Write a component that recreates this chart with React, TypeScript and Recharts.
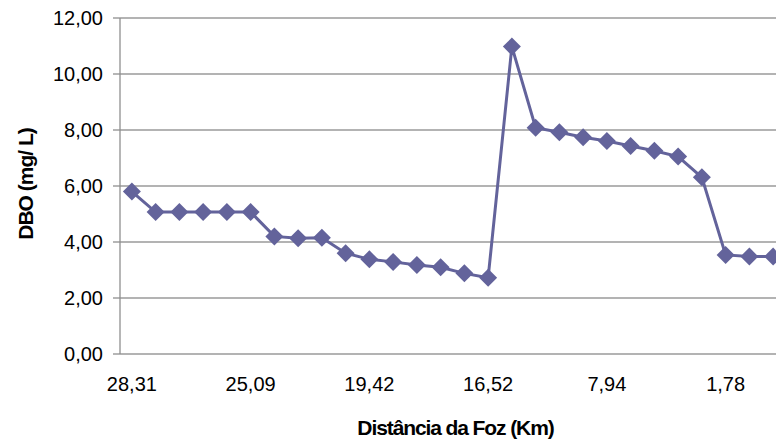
import { LineChart, Line, XAxis, YAxis, CartesianGrid } from 'recharts';

// distância da foz (km) - só os rótulos de 5 em 5 aparecem no eixo
const distancias = [
    '28,31', '27,60', '26,95', '26,30', '25,70',
    '25,09', '23,85', '22,70', '21,55', '20,40',
    '19,42', '18,90', '18,20', '17,60', '17,05',
    '16,52', '14,80', '13,10', '11,35', '9,60',
    '7,94', '6,70', '5,45', '4,25', '3,00',
    '1,78', '0,95', '0,30',
];
const dbo = [
    5.8, 5.07, 5.07, 5.07, 5.07,
    5.07, 4.2, 4.13, 4.15, 3.6,
    3.38, 3.29, 3.18, 3.1, 2.88,
    2.72, 10.98, 8.08, 7.92, 7.74,
    7.61, 7.43, 7.26, 7.05, 6.31,
    3.54, 3.48, 3.48,
];
const yTicks = [0, 2, 4, 6, 8, 10, 12];
const xLabelTicks = [0, 5, 10, 15, 20, 25];

const data = dbo.map((v, i) => ({ i, dbo: v }));
// marcas do eixo entre as categorias (estilo Excel)
const xMarkTicks = [...distancias.map((_, i) => i - 0.5), distancias.length - 0.5];

const FONT = '"Liberation Sans", Arial, sans-serif';
const COR = '#63639b';

const fmt = (v: number) => v.toFixed(2).replace('.', ',');

const Diamante = (props: any) => {
    const { cx, cy, index } = props;
    if (cx == null || cy == null) return <g key={`d${index}`} />;
    const r = 9;
    return (
        <polygon
            key={`d${index}`}
            points={`${cx},${cy - r} ${cx + r},${cy} ${cx},${cy + r} ${cx - r},${cy}`}
            fill={COR}
        />
    );
};

export default function App() {
    return (
        <div style={{ position: 'fixed', left: 0, top: 0, width: 776, height: 443, overflow: 'hidden', background: '#fff' }}>
            <LineChart width={790} height={443} data={data} margin={{ top: 18, right: 5, bottom: 0, left: 0 }}>
                <CartesianGrid xAxisId="lbl" vertical={false} stroke="#9a9a9a" strokeWidth={1.3} />
                <XAxis
                    xAxisId="marks"
                    type="number"
                    dataKey="i"
                    domain={[-0.5, distancias.length - 0.5]}
                    allowDataOverflow
                    ticks={xMarkTicks}
                    tick={false}
                    tickSize={7}
                    height={0}
                    stroke="#8f8f8f"
                    strokeWidth={1.3}
                />
                <XAxis
                    xAxisId="lbl"
                    type="number"
                    dataKey="i"
                    domain={[-0.5, distancias.length - 0.5]}
                    allowDataOverflow
                    ticks={xLabelTicks}
                    interval={0}
                    tickFormatter={(i) => distancias[i]}
                    axisLine={false}
                    tickLine={false}
                    tickSize={0}
                    tickMargin={23}
                    height={89}
                    tick={{ fill: '#000', fontSize: 20, fontFamily: FONT }}
                    label={(p: any) => {
                        const vb = p.viewBox;
                        return (
                            <text
                                x={vb.x + vb.width / 2 + 3}
                                y={vb.y + 81}
                                textAnchor="middle"
                                fontFamily={FONT}
                                fontWeight="bold"
                                fontSize={21}
                                letterSpacing={-1.1}
                                fill="#000"
                            >
                                Distância da Foz (Km)
                            </text>
                        );
                    }}
                />
                <YAxis
                    domain={[0, 12]}
                    ticks={yTicks}
                    tickFormatter={fmt}
                    width={120}
                    tickSize={7}
                    tickMargin={10}
                    stroke="#8f8f8f"
                    strokeWidth={1.3}
                    tick={{ fill: '#000', fontSize: 20, fontFamily: FONT }}
                    label={(p: any) => {
                        const vb = p.viewBox;
                        const x = 33;
                        const y = vb.y + vb.height / 2 - 2;
                        return (
                            <text
                                x={x}
                                y={y}
                                transform={`rotate(-90, ${x}, ${y})`}
                                textAnchor="middle"
                                fontFamily={FONT}
                                fontWeight="bold"
                                fontSize={21}
                                letterSpacing={-1}
                                fill="#000"
                            >
                                DBO (mg/ L)
                            </text>
                        );
                    }}
                />
                <Line
                    xAxisId="lbl"
                    type="linear"
                    dataKey="dbo"
                    stroke={COR}
                    strokeWidth={3}
                    dot={Diamante}
                    activeDot={false}
                    isAnimationActive={false}
                />
            </LineChart>
        </div>
    );
}
